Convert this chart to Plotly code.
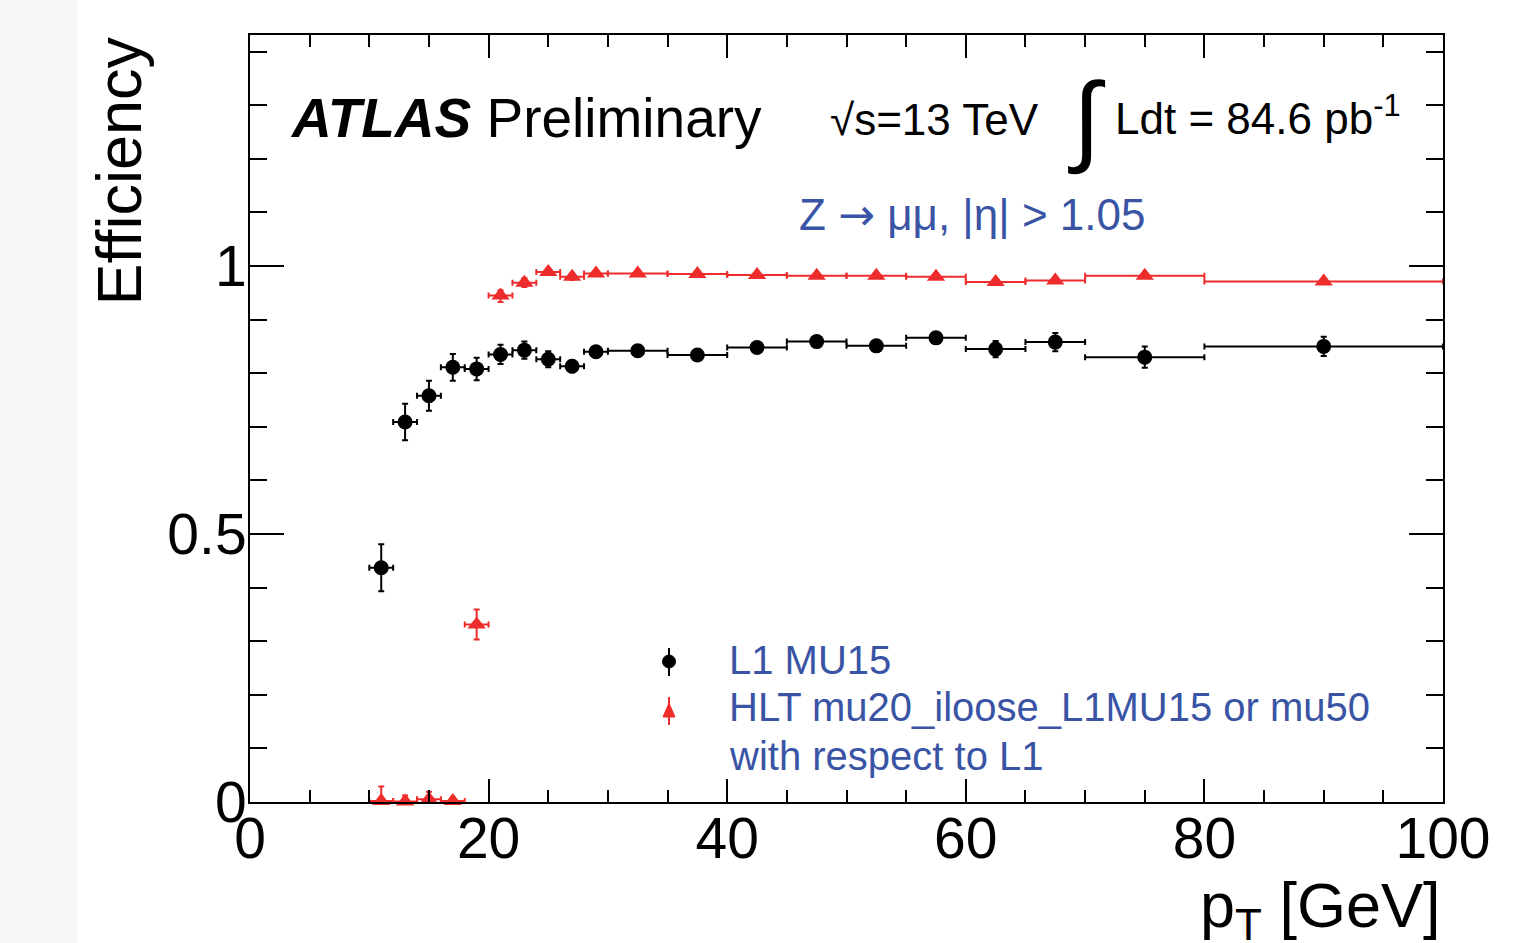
import plotly.graph_objects as go

# ---- data ----
pt_edges = [10, 12, 14, 16, 18, 20, 22, 24, 26, 28, 30, 35, 40, 45, 50, 55, 60, 65, 70, 80, 100]

eff_l1 = [0.437, 0.709, 0.758, 0.811, 0.808, 0.835, 0.843, 0.826, 0.813, 0.840,
          0.842, 0.834, 0.848, 0.859, 0.851, 0.866, 0.845, 0.858, 0.830, 0.850]
err_l1 = [0.044, 0.034, 0.028, 0.025, 0.021, 0.018, 0.016, 0.015, 0.011, 0.008,
          0.006, 0.006, 0.007, 0.007, 0.007, 0.008, 0.015, 0.017, 0.020, 0.018]

eff_hlt = [0.002, 0.001, 0.005, 0.002, 0.331, 0.945, 0.969, 0.989, 0.980, 0.986,
           0.986, 0.985, 0.983, 0.982, 0.982, 0.980, 0.970, 0.973, 0.982, 0.971]
errup_hlt = [0.027, 0.011, 0.014, 0.006, 0.028, 0.010, 0.008, 0.006, 0.006, 0.004,
             0.003, 0.003, 0.003, 0.003, 0.003, 0.003, 0.004, 0.004, 0.004, 0.004]
errdn_hlt = [0.002, 0.001, 0.005, 0.002, 0.028, 0.012, 0.008, 0.006, 0.006, 0.004,
             0.003, 0.003, 0.003, 0.003, 0.003, 0.003, 0.004, 0.004, 0.004, 0.004]

label_l1 = "L1 MU15"
label_hlt = "HLT mu20_iloose_L1MU15 or mu50"
label_hlt2 = "with respect to L1"

x_ticks = [0, 20, 40, 60, 80, 100]
y_ticks = [0, 0.5, 1]
y_ticktext = ["0", "0.5", "1"]

pt_center = [(a + b) / 2 for a, b in zip(pt_edges[:-1], pt_edges[1:])]
pt_half = [(b - a) / 2 for a, b in zip(pt_edges[:-1], pt_edges[1:])]

BLACK = "#000000"
RED = "#ee2c2c"
BLUE = "#3a54a5"
FONT = "Liberation Sans, Arial, Helvetica, sans-serif"

W, H = 1515, 943
L, R, T, B = 250, 72, 35, 141
PW, PH = W - L - R, H - T - B


def px(xp):
    return (xp - L) / PW


def py(yp):
    return (H - B - yp) / PH


fig = go.Figure()

fig.add_trace(go.Scatter(
    x=pt_center, y=eff_l1, mode="markers", name=label_l1,
    marker=dict(symbol="circle", size=15, color=BLACK),
    error_x=dict(type="data", array=pt_half, color=BLACK, thickness=2, width=3),
    error_y=dict(type="data", array=err_l1, color=BLACK, thickness=2, width=3),
    cliponaxis=False, showlegend=False,
))

fig.add_trace(go.Scatter(
    x=pt_center, y=eff_hlt, mode="markers", name=label_hlt,
    marker=dict(symbol="triangle-up", size=16, color=RED),
    error_x=dict(type="data", array=pt_half, color=RED, thickness=2, width=3),
    error_y=dict(type="data", symmetric=False, array=errup_hlt, arrayminus=errdn_hlt,
                 color=RED, thickness=2, width=3),
    cliponaxis=False, showlegend=False,
))

axis_common = dict(
    showline=True, linecolor="black", linewidth=2, mirror="allticks",
    ticks="inside", tickcolor="black", tickwidth=2,
    showgrid=False, zeroline=False,
    tickfont=dict(family=FONT, size=57, color="black"),
)

fig.update_xaxes(
    range=[0, 100], tickmode="array", tickvals=x_ticks, ticklen=23,
    ticklabelstandoff=-14,
    minor=dict(ticks="inside", dtick=5, ticklen=12, tickcolor="black", tickwidth=2, showgrid=False),
    **axis_common,
)
fig.update_yaxes(
    range=[0, 1.431], tickmode="array", tickvals=y_ticks, ticktext=y_ticktext, ticklen=34,
    ticklabelstandoff=-10,
    minor=dict(ticks="inside", dtick=0.1, tick0=0, ticklen=17, tickcolor="black", tickwidth=2, showgrid=False),
    **axis_common,
)

annotations = [
    dict(text="Efficiency", x=px(118), y=1.0, xanchor="center", yanchor="top",
         textangle=-90, font=dict(family=FONT, size=63, color="black")),
    dict(text="p<sub>T</sub> [GeV]", x=1.0, y=py(909), xanchor="right", yanchor="middle",
         font=dict(family=FONT, size=63, color="black")),
    dict(text="<b><i>ATLAS</i></b> Preliminary", x=px(288), y=py(118), xanchor="left",
         yanchor="middle", font=dict(family=FONT, size=55, color="black")),
    dict(text="√s=13 TeV", x=px(828), y=py(120), xanchor="left", yanchor="middle",
         font=dict(family=FONT, size=44, color="black")),
    dict(text="∫", x=px(1087), y=py(118), xanchor="center", yanchor="middle",
         font=dict(family=FONT, size=100, color="black")),
    dict(text="Ldt = 84.6 pb<sup>-1</sup>", x=px(1113), y=py(115), xanchor="left",
         yanchor="middle", font=dict(family=FONT, size=44, color="black")),
    dict(text="Z <span style='font-family:DejaVu Sans'>→</span> μμ, |η| > 1.05",
         x=px(797), y=py(214), xanchor="left", yanchor="middle",
         font=dict(family=FONT, size=44, color=BLUE)),
    dict(text=label_l1, x=px(727), y=py(660), xanchor="left", yanchor="middle",
         font=dict(family=FONT, size=40, color=BLUE)),
    dict(text=label_hlt, x=px(727), y=py(707), xanchor="left", yanchor="middle",
         font=dict(family=FONT, size=40, color=BLUE)),
    dict(text=label_hlt2, x=px(727), y=py(756), xanchor="left", yanchor="middle",
         font=dict(family=FONT, size=40, color=BLUE)),
]
for a in annotations:
    a.update(xref="paper", yref="paper", showarrow=False)

shapes = [
    # light grey band at the far left of the image
    dict(type="rect", xref="paper", yref="paper", x0=px(0), x1=px(78), y0=py(H), y1=py(0),
         fillcolor="#f7f7f7", line=dict(width=0), layer="below"),
    # legend glyphs
    dict(type="line", xref="paper", yref="paper", x0=px(669), x1=px(669), y0=py(648), y1=py(676),
         line=dict(color=BLACK, width=2)),
    dict(type="circle", xref="paper", yref="paper", x0=px(662.5), x1=px(675.5), y0=py(655), y1=py(668),
         fillcolor=BLACK, line=dict(color=BLACK, width=1)),
    dict(type="line", xref="paper", yref="paper", x0=px(669), x1=px(669), y0=py(697), y1=py(725),
         line=dict(color=RED, width=2)),
    dict(type="path", xref="paper", yref="paper",
         path=f"M {px(663)} {py(717)} L {px(675)} {py(717)} L {px(669)} {py(703)} Z",
         fillcolor=RED, line=dict(color=RED, width=1)),
]

fig.update_layout(
    width=W, height=H,
    margin=dict(l=L, r=R, t=T, b=B),
    paper_bgcolor="white", plot_bgcolor="white",
    annotations=annotations, shapes=shapes,
    showlegend=False,
)

fig.write_html("out.html")
